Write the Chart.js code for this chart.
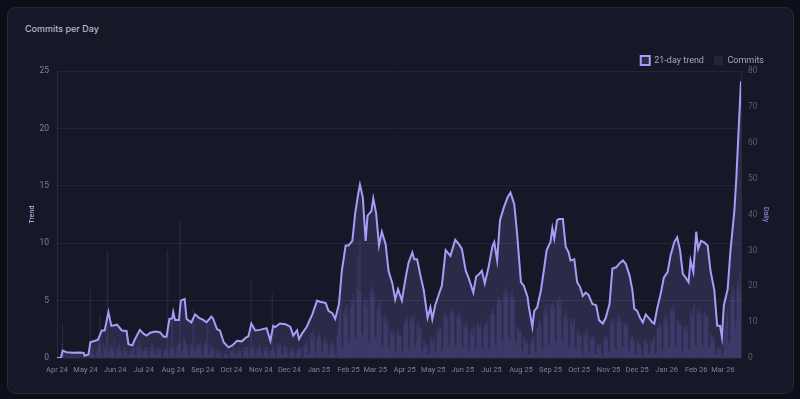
<!DOCTYPE html>
<html>
<head>
<meta charset="utf-8">
<script src="https://cdn.jsdelivr.net/npm/chart.js@4.4.1/dist/chart.umd.min.js"></script>
<style>
  html, body { margin: 0; padding: 0; background: #0d0f18; width: 800px; height: 399px; overflow: hidden; }
  .card { position: absolute; left: 7px; top: 7px; width: 785px; height: 385px; background: #161827; border: 1px solid #262a3b; border-radius: 9px; }
  .title { position: absolute; left: 25px; top: 23px; font: 500 9px Inter, "Open Sans", sans-serif; line-height: 11px; color: #b6b9c9; }
  .wrap { position: absolute; left: 24px; top: 46px; width: 750px; height: 329px; }
</style>
</head>
<body>
<div class="card"></div>
<div class="title">Commits per Day</div>
<div class="wrap"><canvas id="c"></canvas></div>
<script>
const startDate = '2024-04-01';
const tickLabels = ['Apr 24','May 24','Jun 24','Jul 24','Aug 24','Sep 24','Oct 24','Nov 24','Dec 24',
  'Jan 25','Feb 25','Mar 25','Apr 25','May 25','Jun 25','Jul 25','Aug 25','Sep 25','Oct 25','Nov 25','Dec 25',
  'Jan 26','Feb 26','Mar 26'];

// daily commits, one row per week (Mon..Sun) starting 2024-04-01
const commits = [
  0,0,0,0,0,4,9, 1,0,0,1,0,0,0, 0,1,0,0,1,0,0, 1,0,0,1,0,0,0,
  0,0,0,0,1,0,2, 19,2,1,3,1,0,1, 2,3,4,12,3,1,0, 4,3,2,6,30,1,2,
  3,4,3,2,5,0,1, 3,2,4,3,2,1,0, 3,2,3,1,2,0,1, 2,1,3,2,4,1,0,
  3,4,2,5,3,1,2, 2,3,2,3,2,0,1, 3,2,4,2,3,1,1, 2,3,2,3,2,0,0,
  2,2,3,2,30,1,0, 3,3,12,2,3,0,1, 3,4,4,38,4,1,2, 6,5,4,3,4,1,0,
  3,4,3,14,3,1,2, 4,3,4,3,4,1,0, 3,4,5,4,9,1,1, 4,3,2,3,2,0,1,
  2,2,1,1,2,0,0, 1,1,2,1,1,0,0, 2,2,1,3,2,0,1, 2,1,3,2,2,0,0,
  3,2,2,3,3,1,0, 3,22,3,2,3,0,1, 3,2,3,4,2,1,0, 3,2,3,2,3,0,1,
  2,2,18,3,2,1,0, 4,3,3,4,3,1,1, 3,4,3,2,3,0,1, 2,3,2,3,2,0,1,
  2,2,3,2,3,0,0, 3,4,3,5,4,1,1, 6,7,5,8,6,2,1, 6,5,7,6,5,1,2,
  5,6,4,5,4,1,1, 4,5,4,3,4,1,0, 6,8,12,14,15,4,3, 13,14,12,15,13,4,5,
  14,16,15,18,16,6,5, 20,28,19,33,18,7,6, 15,17,16,14,16,5,4, 18,19,20,17,18,6,5,
  13,15,14,16,12,4,3, 11,12,10,9,11,3,2, 8,7,6,8,7,2,1, 7,8,6,7,6,2,2,
  9,10,11,12,10,3,2, 11,12,10,11,12,3,4, 9,10,8,9,8,2,2, 5,4,3,4,3,1,1,
  5,6,4,5,6,1,2, 7,8,7,9,8,2,3, 12,13,11,12,11,3,4, 13,12,14,13,12,4,3,
  12,11,13,12,11,3,3, 9,8,9,10,8,2,2, 7,8,6,9,8,2,3, 9,10,9,8,10,3,2,
  8,9,10,9,11,3,2, 12,13,12,14,12,4,3, 15,16,17,15,16,5,4, 18,19,17,20,18,6,5,
  18,17,19,16,17,5,4, 9,8,7,8,7,2,2, 6,5,4,5,4,1,1, 4,5,6,5,6,2,1,
  8,9,10,11,9,3,2, 13,14,12,15,13,4,3, 15,14,16,15,14,5,4, 16,15,17,14,16,5,4,
  12,11,13,12,10,3,3, 10,11,9,10,11,3,2, 7,8,6,7,6,2,1, 7,6,7,8,6,2,1,
  6,5,6,5,6,1,1, 4,3,4,3,4,1,0, 5,6,5,6,5,1,2, 10,11,10,9,11,3,2,
  11,10,12,11,10,3,3, 10,9,10,9,9,2,2, 6,5,6,5,5,1,1, 4,5,4,4,3,1,0,
  5,4,5,4,4,1,1, 4,5,4,5,6,1,1, 8,9,8,10,9,2,2, 10,11,12,11,10,3,3,
  13,14,13,15,13,4,3, 11,10,9,10,9,2,2, 8,9,8,7,9,2,2, 12,13,11,14,15,4,3,
  13,12,14,12,13,4,3, 12,13,11,12,12,3,3, 7,6,5,6,5,1,1, 3,2,3,2,3,0,1,
  6,8,10,12,14,4,5, 16,18,20,17,19,8,10, 20,22,18,24,21
];

// 21-day trend, read at day offsets from startDate
const trendDays = [0,4,6,10,17,24,28,29,33,35,40,43,47,50,54,57,63,68,73,75,79,82,87,91,94,98,103,108,112,115,
  118,121,122,124,128,130,134,136,141,145,149,154,157,162,164,168,171,175,180,184,189,194,198,201,204,208,213,220,224,227,
  229,234,240,245,248,252,254,257,262,268,273,276,282,285,289,292,296,299,303,306,310,313,316,318,321,324,326,330,332,335,
  338,341,345,348,352,355,358,362,366,369,373,375,378,382,385,389,392,394,397,401,404,408,413,418,422,425,429,432,437,440,
  443,446,449,453,457,459,462,465,469,473,476,480,483,487,490,494,495,499,501,504,508,511,514,518,520,522,525,527,531,534,
  537,539,543,546,549,552,555,558,562,566,569,573,576,580,583,587,590,594,597,601,604,606,609,612,615,618,622,625,627,630,
  634,637,641,644,648,651,654,657,660,663,665,668,671,673,676,679,683,686,690,693,696,698,700,704,707,711,713,715,718];
const trendValues = [0,0,0.64,0.5,0.45,0.48,0.45,0.2,0.3,1.37,1.5,1.6,2.4,2.4,4.0,2.8,2.9,2.4,2.35,1.2,1.1,1.65,2.45,2.1,1.95,2.2,2.3,2.25,1.85,1.85,
  3.4,3.45,4.0,3.3,3.3,5.0,5.15,3.4,3.1,3.8,3.5,3.3,3.1,3.6,3.4,2.5,2.4,1.37,0.93,1.1,1.5,1.45,1.75,1.9,3.0,2.4,2.45,2.6,1.5,2.8,
  2.7,3.0,2.95,2.7,1.95,2.4,1.65,2.1,2.7,3.8,5.0,4.9,4.8,4.1,3.9,3.4,4.7,7.6,9.8,9.8,10.2,12.6,14.2,15.1,14.0,10.2,12.4,12.8,13.9,12.6,
  9.8,11.0,9.9,7.6,6.5,5.1,6.0,5.0,7.0,8.3,9.2,8.6,8.6,7.0,5.9,3.5,4.4,3.4,4.6,5.6,6.3,9.4,8.9,10.3,9.9,9.5,7.6,7.0,5.7,7.1,
  7.3,7.6,6.5,7.9,9.7,10.1,8.5,12.0,13.1,14.0,14.4,13.4,10.8,6.6,6.3,5.3,4.6,2.7,4.1,4.4,5.9,7.6,9.4,10.1,11.3,10.4,12.0,12.1,12.1,9.7,
  9.2,8.5,8.6,6.6,6.2,5.4,5.7,5.5,4.7,4.6,3.3,3.0,3.5,4.7,7.8,7.9,8.2,8.5,8.2,7.2,5.9,4.3,4.1,3.5,3.1,3.8,3.4,3.1,3.0,4.3,
  5.7,7.0,7.5,8.9,10.1,10.5,9.4,7.3,7.0,6.6,8.5,7.5,11.0,9.5,10.2,10.1,9.8,7.6,5.9,2.8,2.8,1.8,4.6,6.0,9.4,12.8,15.5,19.0,24.1];

const DAY = 864e5;
const start = Date.parse(startDate + 'T00:00:00Z');
const lastDay = commits.length - 1;
const tickDays = tickLabels.map((_, i) => (Date.UTC(2024, 3 + i, 1) - start) / DAY);

const LINE = '#a99cf6';
const xFont = { family: 'Roboto, "Liberation Sans", sans-serif', size: 7.5 };
const yFont = { family: 'Roboto, "Liberation Sans", sans-serif', size: 8.5 };

const legendHeight = {
  id: 'legendHeight',
  beforeInit(chart) {
    const fit = chart.legend.fit;
    chart.legend.fit = function () { fit.call(this); this.height = 25; };
  }
};

new Chart(document.getElementById('c'), {
  plugins: [legendHeight],
  data: {
    datasets: [
      {
        type: 'line',
        label: '21-day trend',
        data: trendDays.map((d, i) => ({ x: d, y: trendValues[i] })),
        borderColor: LINE,
        backgroundColor: 'rgba(150,135,245,0.17)',
        borderWidth: 2,
        pointRadius: 0,
        tension: 0,
        fill: 'origin',
        yAxisID: 'y',
        order: 0
      },
      {
        type: 'bar',
        label: 'Commits',
        data: commits.map((v, i) => ({ x: i, y: v })),
        backgroundColor: 'rgba(140,125,235,0.12)',
        borderWidth: 0,
        barPercentage: 1,
        categoryPercentage: 1,
        yAxisID: 'y1',
        order: 1
      }
    ]
  },
  options: {
    responsive: true,
    maintainAspectRatio: false,
    animation: false,
    layout: { padding: 0, autoPadding: false },
    plugins: {
      legend: {
        position: 'top',
        align: 'end',
        labels: {
          boxWidth: 9, boxHeight: 9, padding: 10,
          color: '#a3a7b8',
          font: { family: 'Roboto, "Liberation Sans", sans-serif', size: 9 }
        }
      },
      tooltip: { enabled: false }
    },
    scales: {
      x: {
        type: 'linear',
        min: 0,
        max: lastDay,
        offset: false,
        grid: { display: false },
        border: { display: false },
        afterBuildTicks: (scale) => { scale.ticks = tickDays.map(v => ({ value: v })); },
        ticks: {
          autoSkip: false, maxRotation: 0, minRotation: 0,
          color: '#7d8194', font: xFont, padding: 0,
          callback: (v) => { const k = tickDays.indexOf(v); return k >= 0 ? tickLabels[k] : ''; }
        }
      },
      y: {
        position: 'left',
        min: 0, max: 25,
        afterFit: (scale) => { scale.width = 33; },
        ticks: { stepSize: 5, color: '#7d8194', font: yFont, padding: 8 },
        grid: { color: '#22253a', drawTicks: false },
        border: { color: '#262a3c' },
        title: { display: true, text: 'Trend', color: '#c7bff7', font: { family: 'Roboto, sans-serif', size: 7 } }
      },
      y1: {
        position: 'right',
        min: 0, max: 80,
        afterFit: (scale) => { scale.width = 33; },
        ticks: { stepSize: 10, color: '#585c70', font: yFont, padding: 7 },
        grid: { drawOnChartArea: false, drawTicks: false },
        border: { color: '#262a3c' },
        title: { display: true, text: 'Daily', color: '#9d90ee', font: { family: 'Roboto, sans-serif', size: 7 } }
      }
    }
  }
});
</script>
</body>
</html>
